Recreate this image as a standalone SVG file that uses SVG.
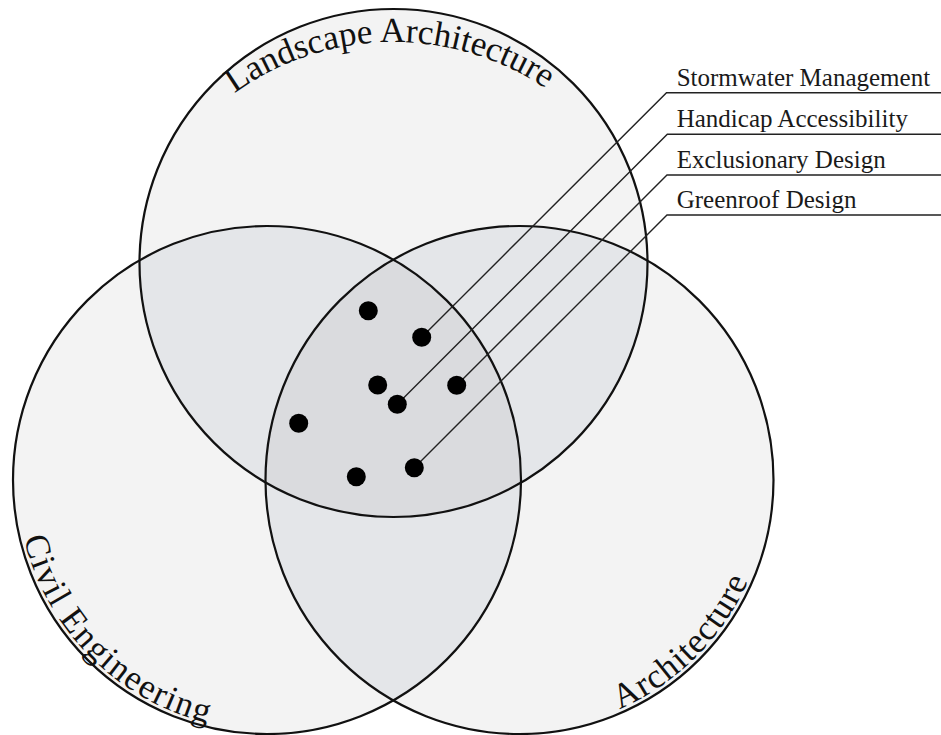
<svg xmlns="http://www.w3.org/2000/svg" width="941" height="735" viewBox="0 0 941 735">
  <style>
    .ring { fill: none; stroke: #111; stroke-width: 2.2; }
    .one { fill: #f3f3f3; }
    .two { fill: #e4e6e9; }
    .three { fill: #dadbde; }
    .label { font-family: "Liberation Serif", "Times New Roman", serif; font-size: 35px; fill: #111; }
    .legend { font-family: "Liberation Serif", "Times New Roman", serif; font-size: 25px; fill: #1a1a1a; }
    .leader { fill: none; stroke: #222; stroke-width: 1.4; }
    .dot { fill: #000; }
  </style>
  <defs>
    <clipPath id="cTop"><circle cx="393.5" cy="263" r="254"/></clipPath>
    <clipPath id="cLeft"><circle cx="267" cy="480" r="254"/></clipPath>
    <clipPath id="cRight"><circle cx="519.5" cy="480" r="254"/></clipPath>
    <path id="pTop" d="M 121.5 314 A 272 272 0 0 1 665.5 314"/>
    <path id="pLeft" d="M 32 394.5 A 250 250 0 0 0 352.5 714.9"/>
    <path id="pRight" d="M 434 714.9 A 250 250 0 0 0 754.4 394.5"/>
  </defs>
  <rect width="941" height="735" fill="#fff"/>

  <g id="regions">
    <circle class="one" cx="393.5" cy="263" r="254"/>
    <circle class="one" cx="267" cy="480" r="254"/>
    <circle class="one" cx="519.5" cy="480" r="254"/>
    <circle class="two" cx="267" cy="480" r="254" clip-path="url(#cTop)"/>
    <circle class="two" cx="519.5" cy="480" r="254" clip-path="url(#cTop)"/>
    <circle class="two" cx="519.5" cy="480" r="254" clip-path="url(#cLeft)"/>
    <g clip-path="url(#cTop)">
      <circle class="three" cx="519.5" cy="480" r="254" clip-path="url(#cLeft)"/>
    </g>
  </g>

  <g id="landscape-architecture">
    <circle class="ring" cx="393.5" cy="263" r="254"/>
    <text class="label" font-size="33"><textPath href="#pTop" startOffset="49.5%" text-anchor="middle">Landscape Architecture</textPath></text>
  </g>
  <g id="civil-engineering">
    <circle class="ring" cx="267" cy="480" r="254"/>
    <text class="label" letter-spacing="1.5"><textPath href="#pLeft" startOffset="50%" text-anchor="middle">Civil Engineering</textPath></text>
  </g>
  <g id="architecture">
    <circle class="ring" cx="519.5" cy="480" r="254"/>
    <text class="label" letter-spacing="1"><textPath href="#pRight" startOffset="50%" text-anchor="middle">Architecture</textPath></text>
  </g>

  <g id="connectors">
    <polyline class="leader" points="941,92.7 666.5,92.7 421.7,337.3"/>
    <polyline class="leader" points="941,134.3 667.3,134.3 397.3,404.3"/>
    <polyline class="leader" points="941,175 667,175 456.7,385.3"/>
    <polyline class="leader" points="941,215 667,215 414.3,467.7"/>
  </g>

  <g id="legend-stormwater"><text class="legend" x="676.7" y="86">Stormwater Management</text></g>
  <g id="legend-handicap"><text class="legend" x="676.7" y="127.3">Handicap Accessibility</text></g>
  <g id="legend-exclusionary"><text class="legend" x="676.7" y="167.8">Exclusionary Design</text></g>
  <g id="legend-greenroof"><text class="legend" x="676.7" y="208">Greenroof Design</text></g>

  <g id="dots">
    <circle id="dot-1" class="dot" cx="368.3" cy="310.7" r="9.5"/>
    <circle id="dot-2" class="dot" cx="421.7" cy="337.3" r="9.5"/>
    <circle id="dot-3" class="dot" cx="377.7" cy="385" r="9.5"/>
    <circle id="dot-4" class="dot" cx="456.7" cy="385.3" r="9.5"/>
    <circle id="dot-5" class="dot" cx="397.3" cy="404.3" r="9.5"/>
    <circle id="dot-6" class="dot" cx="298.7" cy="423.3" r="9.5"/>
    <circle id="dot-7" class="dot" cx="414.3" cy="467.7" r="9.5"/>
    <circle id="dot-8" class="dot" cx="356.3" cy="476.7" r="9.5"/>
  </g>
</svg>
